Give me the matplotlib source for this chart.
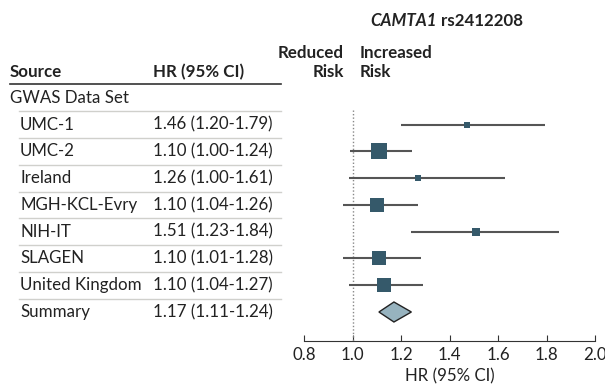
import numpy as np
import matplotlib.pyplot as plt
from matplotlib.transforms import blended_transform_factory
from matplotlib.patches import Polygon

plt.rcParams['font.family'] = ['Lato', 'DejaVu Sans']

# table rows
sources = ['UMC-1', 'UMC-2', 'Ireland', 'MGH-KCL-Evry', 'NIH-IT', 'SLAGEN', 'United Kingdom']
hr_text = ['1.46 (1.20-1.79)', '1.10 (1.00-1.24)', '1.26 (1.00-1.61)', '1.10 (1.04-1.26)',
           '1.51 (1.23-1.84)', '1.10 (1.01-1.28)', '1.10 (1.04-1.27)']
summary_text = '1.17 (1.11-1.24)'

# plotted estimates
hr = [1.47, 1.11, 1.27, 1.10, 1.51, 1.11, 1.13]
lo = [1.20, 0.99, 0.985, 0.96, 1.24, 0.96, 0.985]
hi = [1.795, 1.245, 1.63, 1.27, 1.85, 1.28, 1.29]
weight = [6.7, 16.7, 6.7, 13.7, 7.5, 14.7, 14.7]   # square size in px
sum_hr, sum_lo, sum_hi = 1.17, 1.108, 1.242

xticks = [0.8, 1.0, 1.2, 1.4, 1.6, 1.8, 2.0]

W, H = 605, 385
fig = plt.figure(figsize=(W / 100, H / 100), dpi=100)
x0, x1 = 304.3, 595.0
ytop, ybot = 84, 341
ax = fig.add_axes([x0 / W, 1 - ybot / H, (x1 - x0) / W, (ybot - ytop) / H])

row0, step = 98, 26.75
ax.set_xlim(0.8, 2.0)
ax.set_ylim((ybot - row0) / step, (ytop - row0) / step)

dark = '#222222'
sq = '#35596a'
fs = 12.2

for s in ['top', 'right', 'left']:
    ax.spines[s].set_visible(False)
ax.spines['bottom'].set_color('#333333')
ax.set_yticks([])
ax.set_xticks(xticks)
ax.set_xticklabels(['%.1f' % t for t in xticks])
ax.tick_params(axis='x', direction='in', length=4, color='#333333', labelsize=fs,
               labelcolor=dark, pad=4)
ax.set_xlabel('HR (95% CI)', fontsize=fs, color=dark, labelpad=4)

ax.plot([1.0, 1.0], [0.45, 9.08], ls=(0, (1, 1.5)), color='#888888', lw=1)

for i in range(len(hr)):
    y = i + 1
    ax.plot([lo[i], hi[i]], [y, y], color='#555555', lw=1.5, solid_capstyle='butt')
    ax.plot(hr[i], y, marker='s', ms=weight[i] * 0.72, color=sq, mec=sq, mew=0)

ys = len(hr) + 1
dh = 10 / step
ax.add_patch(Polygon([[sum_lo, ys], [sum_hr, ys - dh], [sum_hi, ys], [sum_hr, ys + dh]],
                     closed=True, fc='#97b3bf', ec='#222222', lw=1))

# table on the left
tr = blended_transform_factory(fig.transFigure, ax.transData)
px = lambda v: v / W

fig.text(px(10), 1 - 72 / H, 'Source', fontsize=fs, fontweight='bold', color=dark, va='center')
fig.text(px(153), 1 - 72 / H, 'HR (95% CI)', fontsize=fs, fontweight='bold', color=dark, va='center')
ax.plot([px(10), px(281)], [(ytop - row0) / step] * 2, color='#333333', lw=1.2,
        transform=tr, clip_on=False)

ax.text(px(10), 0, 'GWAS Data Set', fontsize=fs, color=dark, va='center', transform=tr)
for i in range(len(sources)):
    ax.text(px(20), i + 1, sources[i], fontsize=fs, color=dark, va='center', transform=tr)
    ax.text(px(153), i + 1, hr_text[i], fontsize=fs, color=dark, va='center', transform=tr)
ax.text(px(20), ys, 'Summary', fontsize=fs, color=dark, va='center', transform=tr)
ax.text(px(153), ys, summary_text, fontsize=fs, color=dark, va='center', transform=tr)

for i in range(len(hr) + 1):
    ax.plot([px(19), px(281)], [i + 0.5] * 2, color='#d0d0cc', lw=1,
            transform=tr, clip_on=False)

# header over the plot
fig.text(px(344), 1 - 53 / H, 'Reduced', fontsize=fs, fontweight='bold', color=dark,
         ha='right', va='center')
fig.text(px(344), 1 - 72 / H, 'Risk', fontsize=fs, fontweight='bold', color=dark,
         ha='right', va='center')
fig.text(px(360), 1 - 53 / H, 'Increased', fontsize=fs, fontweight='bold', color=dark,
         ha='left', va='center')
fig.text(px(360), 1 - 72 / H, 'Risk', fontsize=fs, fontweight='bold', color=dark,
         ha='left', va='center')
fig.text(px(437), 1 - 21 / H, 'CAMTA1', fontsize=fs, fontweight='bold', style='italic',
         color=dark, ha='right', va='center')
fig.text(px(441), 1 - 21 / H, 'rs2412208', fontsize=fs, fontweight='bold',
         color=dark, ha='left', va='center')

fig.savefig('out.png', dpi=100)
